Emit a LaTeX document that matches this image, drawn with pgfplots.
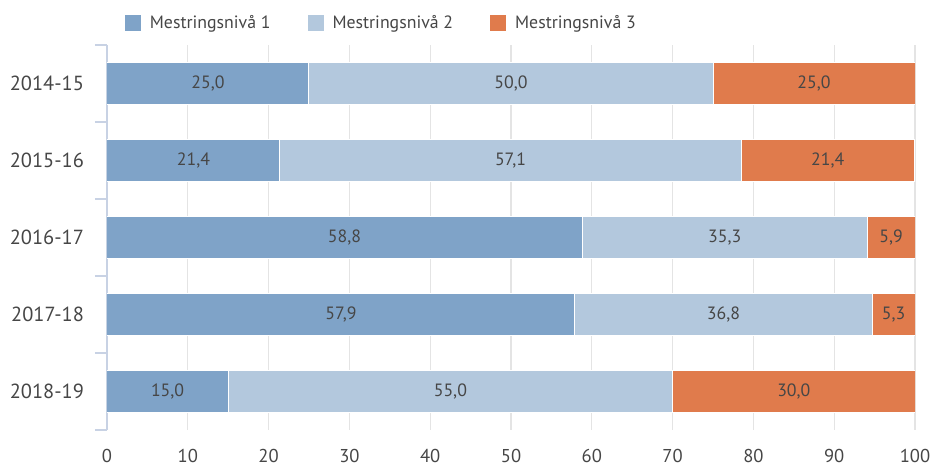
\documentclass[border=0pt]{standalone}
\usepackage{fontspec}
\setmainfont{PT Sans}
\usepackage{pgfplots}
\usepackage{pgfplotstable}
\pgfplotsset{compat=1.18}
\definecolor{lvA}{RGB}{127,163,200}
\definecolor{lvB}{RGB}{179,200,221}
\definecolor{lvC}{RGB}{224,123,76}
\definecolor{gridC}{RGB}{228,228,228}
\definecolor{axC}{RGB}{200,210,228}
\definecolor{txtC}{RGB}{70,70,70}

\pgfplotstableread{
y a b c
0 25.0 50.0 25.0
1 21.4 57.1 21.4
2 58.8 35.3 5.9
3 57.9 36.8 5.3
4 15.0 55.0 30.0
}\levels

\begin{document}
\begin{tikzpicture}
\useasboundingbox (-53.5pt,-18pt) rectangle (412.5pt,215pt);
\begin{axis}[
  at={(0,0)}, anchor=south west,
  scale only axis, width=404pt, height=192.5pt,
  xbar stacked, bar width=21pt,
  xmin=0, xmax=100, xtick={0,10,...,100},
  ymin=-0.5, ymax=4.5, y dir=reverse,
  ytick={0,1,2,3,4},
  yticklabels={2014-15,2015-16,2016-17,2017-18,2018-19},
  minor ytick={-0.5,0.5,1.5,2.5,3.5,4.5},
  major tick length=0pt, minor tick length=6pt, tick align=outside,
  minor y tick style={axC, line width=0.6pt},
  axis y line*=left, axis x line*=bottom,
  x axis line style={draw=none},
  y axis line style={axC, line width=0.6pt},
  xmajorgrids, grid style={gridC, line width=0.6pt},
  /pgf/number format/assume math mode=true,
  tick label style={font=\fontsize{9.3}{11}\selectfont, text=txtC},
  yticklabel style={font=\fontsize{10.2}{12}\selectfont, xshift=-8pt},
  xticklabel style={yshift=-6pt},
  legend columns=3,
  legend style={draw=none, fill=none, at={(0.013,1.057)}, anchor=west,
    font=\fontsize{8.9}{10}\selectfont, text=txtC,
    /tikz/every odd column/.append style={column sep=2pt},
    /tikz/every even column/.append style={column sep=16pt}},
  legend image code/.code={\fill[#1] (0pt,-4.25pt) rectangle (8.5pt,4.25pt);},
  every axis plot/.append style={draw=white, line width=0.5pt},
  visualization depends on={rawx \as \rawx},
  nodes near coords={\pgfmathprintnumber[fixed,fixed zerofill,precision=1,use comma]{\rawx}},
  every node near coord/.append style={font=\fontsize{8.9}{10}\selectfont, text=txtC,
    anchor=center},
]
\addplot[fill=lvA] table[x=a,y=y]{\levels};
\addplot[fill=lvB] table[x=b,y=y]{\levels};
\addplot[fill=lvC] table[x=c,y=y]{\levels};
\legend{Mestringsnivå 1,Mestringsnivå 2,Mestringsnivå 3}
\end{axis}
\end{tikzpicture}
\end{document}
